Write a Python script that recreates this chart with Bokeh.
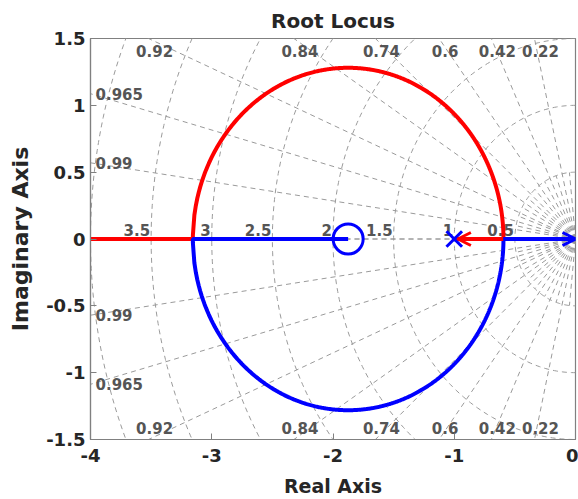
import numpy as np
from bokeh.plotting import figure
from bokeh.models import Range1d, Arrow, OpenHead
from bokeh.core.properties import value
from bokeh.embed import file_html
from bokeh.resources import INLINE

# Open-loop system  K (s + 1.875) / (s (s + 1))
open_loop_poles = [0.0, -1.0]
open_loop_zeros = [-1.875]

# s-plane grid: damping ratios and natural frequencies
zeta_values = [0.22, 0.42, 0.6, 0.74, 0.84, 0.92, 0.965, 0.99]
zeta_labels = ["0.22", "0.42", "0.6", "0.74", "0.84", "0.92", "0.965", "0.99"]
fan_zeta = [0.1, 0.32, 0.51, 0.67, 0.79, 0.88, 0.94, 0.98]   # short unlabeled rays near origin
wn_values = [0.5, 1.0, 1.5, 2.0, 2.5, 3.0, 3.5, 4.0]
wn_labels = ["0.5", "1", "1.5", "2", "2.5", "3", "3.5", ""]

x_ticks = [-4, -3, -2, -1, 0]
x_tick_labels = ["-4", "-3", "-2", "-1", "0"]
y_ticks = [-1.5, -1.0, -0.5, 0.0, 0.5, 1.0, 1.5]
y_tick_labels = ["-1.5", "-1", "-0.5", "0", "0.5", "1", "1.5"]

X_MIN, X_MAX, Y_MIN, Y_MAX = -4.0, 0.0, -1.5, 1.5
FAN_RADIUS = 0.5

FONT = "DejaVu Sans"
GRID_COLOR = "#9a9a9a"
GRID_TEXT = "#555555"
AX_TEXT = "#262626"
FRAME = "#808080"

# ---- root locus branches -------------------------------------------------
den = np.poly(open_loop_poles)
num = np.poly(open_loop_zeros)
brk_poly = np.polysub(np.polymul(num, np.polyder(den)), np.polymul(den, np.polyder(num)))
brk_pts = np.sort(np.roots(brk_poly).real)
brk_gains = [-np.polyval(den, s) / np.polyval(num, s) for s in brk_pts]
gains = np.unique(np.concatenate([[0.0], np.logspace(-4, 4, 4000),
                                  [k for k in brk_gains if k > 0]]))

upper_x, upper_y, lower_x, lower_y = [], [], [], []
for k in gains:
    r = np.roots(np.polyadd(den, k * num))
    if np.abs(r.imag).max() > 1e-7:
        hi, lo = r[np.argmax(r.imag)], r[np.argmin(r.imag)]
    else:
        rr = np.sort(r.real)
        hi, lo = complex(rr[0], 0), complex(rr[1], 0)
    if hi.real > -6:
        upper_x.append(hi.real); upper_y.append(hi.imag)
    lower_x.append(lo.real); lower_y.append(lo.imag)

p = figure(width=578, height=499,
           x_range=Range1d(X_MIN, X_MAX), y_range=Range1d(Y_MIN, Y_MAX),
           output_backend="svg", toolbar_location=None,
           min_border_left=90, min_border_right=3,
           min_border_top=37, min_border_bottom=59)

p.background_fill_color = "white"
p.border_fill_color = "white"
p.outline_line_color = FRAME
p.outline_line_width = 1.2
p.xgrid.visible = False
p.ygrid.visible = False

# ---- damping rays ----------------------------------------------------------
ray_xs, ray_ys = [], []
lbl_top_x, lbl_top_y, lbl_top_t = [], [], []
lbl_bot_x, lbl_bot_y, lbl_bot_t = [], [], []
lbl_left_x, lbl_left_y, lbl_left_t = [], [], []
for z, t in zip(zeta_values + [1.0], zeta_labels + [""]):
    th = np.arccos(z)
    dx, dy = -np.cos(th), np.sin(th)
    R = 8.0
    ray_xs += [[0, R * dx], [0, R * dx]]
    ray_ys += [[0, R * dy], [0, -R * dy]]
    if not t:
        continue
    x_top = Y_MAX / dy * dx if dy > 0 else -np.inf
    if x_top >= X_MIN:
        lbl_top_x.append(x_top); lbl_top_y.append(Y_MAX); lbl_top_t.append(t)
        lbl_bot_x.append(x_top); lbl_bot_y.append(Y_MIN); lbl_bot_t.append(t)
    else:
        y_left = X_MIN / dx * dy
        lbl_left_x += [X_MIN, X_MIN]; lbl_left_y += [y_left, -y_left]; lbl_left_t += [t, t]

for z in fan_zeta:
    th = np.arccos(z)
    dx, dy = -np.cos(th), np.sin(th)
    ray_xs += [[0, FAN_RADIUS * dx], [0, FAN_RADIUS * dx]]
    ray_ys += [[0, FAN_RADIUS * dy], [0, -FAN_RADIUS * dy]]

p.multi_line(ray_xs, ray_ys, line_color=GRID_COLOR, line_width=1, line_dash="5 4")

# ---- natural-frequency circles ----------------------------------------------
ang = np.linspace(np.pi / 2, 3 * np.pi / 2, 200)
circ_xs = [list(w * np.cos(ang)) for w in wn_values]
circ_ys = [list(w * np.sin(ang)) for w in wn_values]
p.multi_line(circ_xs, circ_ys, line_color=GRID_COLOR, line_width=1, line_dash="5 4")

grid_font = dict(text_font=value(FONT), text_font_style="bold",
                 text_font_size="15px", text_color=GRID_TEXT)
p.text(x=lbl_top_x, y=lbl_top_y, text=lbl_top_t, text_align="center",
       text_baseline="top", x_offset=6, y_offset=6, **grid_font)
p.text(x=lbl_bot_x, y=lbl_bot_y, text=lbl_bot_t, text_align="center",
       text_baseline="bottom", x_offset=6, y_offset=-6, **grid_font)
p.text(x=lbl_left_x, y=lbl_left_y, text=lbl_left_t, text_align="left",
       text_baseline="middle", x_offset=5, **grid_font)
wn_lx = [-w for w, t in zip(wn_values, wn_labels) if t]
wn_lt = [t for t in wn_labels if t]
p.text(x=wn_lx, y=[0.0] * len(wn_lx), text=wn_lt, text_align="right",
       text_baseline="bottom", x_offset=-1, y_offset=-3, **grid_font)

# ---- locus -----------------------------------------------------------------
p.line(upper_x, upper_y, line_color="#ff0000", line_width=4)
p.line(lower_x, lower_y, line_color="#0000ff", line_width=4)

# pole / zero markers
inner_poles = [s for s in open_loop_poles if s < X_MAX]
p.scatter(inner_poles, [0.0] * len(inner_poles), marker="x", size=22,
          line_color="#0000ff", line_width=3)
p.scatter(open_loop_zeros, [0.0] * len(open_loop_zeros), marker="circle", size=30,
          fill_color=None, line_color="#0000ff", line_width=3)

# direction arrows toward the open-loop poles
brk_right = brk_pts[-1]
p.add_layout(Arrow(end=OpenHead(size=13, line_color="#ff0000", line_width=3),
                   x_start=brk_right, y_start=0, x_end=open_loop_poles[1] + 0.03, y_end=0,
                   line_color="#ff0000", line_width=4))
p.add_layout(Arrow(end=OpenHead(size=13, line_color="#0000ff", line_width=3),
                   x_start=brk_right, y_start=0, x_end=open_loop_poles[0], y_end=0,
                   line_color="#0000ff", line_width=4))

# ---- axes --------------------------------------------------------------------
p.title.text = "Root Locus"
p.title.align = "center"
p.title.text_font = FONT
p.title.text_font_style = "bold"
p.title.text_font_size = "20px"
p.title.text_color = AX_TEXT
p.title.standoff = 12

p.xaxis.ticker = x_ticks
p.xaxis.major_label_overrides = {float(v): s for v, s in zip(x_ticks, x_tick_labels)}
p.yaxis.ticker = y_ticks
p.yaxis.major_label_overrides = {float(v): s for v, s in zip(y_ticks, y_tick_labels)}
p.xaxis.axis_label = "Real Axis"
p.yaxis.axis_label = "Imaginary Axis"
for ax in (p.xaxis[0], p.yaxis[0]):
    ax.axis_line_color = FRAME
    ax.axis_line_width = 1.2
    ax.major_tick_line_color = FRAME
    ax.major_tick_in = 6
    ax.major_tick_out = 0
    ax.minor_tick_line_color = None
    ax.major_label_text_font = FONT
    ax.major_label_text_font_style = "bold"
    ax.major_label_text_font_size = "18px"
    ax.major_label_text_color = AX_TEXT
    ax.axis_label_text_font = FONT
    ax.axis_label_text_font_style = "bold"
    ax.axis_label_text_color = AX_TEXT
p.xaxis.axis_label_text_font_size = "19px"
p.yaxis.axis_label_text_font_size = "22px"
p.xaxis.major_label_standoff = 9
p.yaxis.major_label_standoff = 5
p.xaxis.axis_label_standoff = 10
p.yaxis.axis_label_standoff = 10

open("out.html", "w").write(file_html(p, INLINE))
